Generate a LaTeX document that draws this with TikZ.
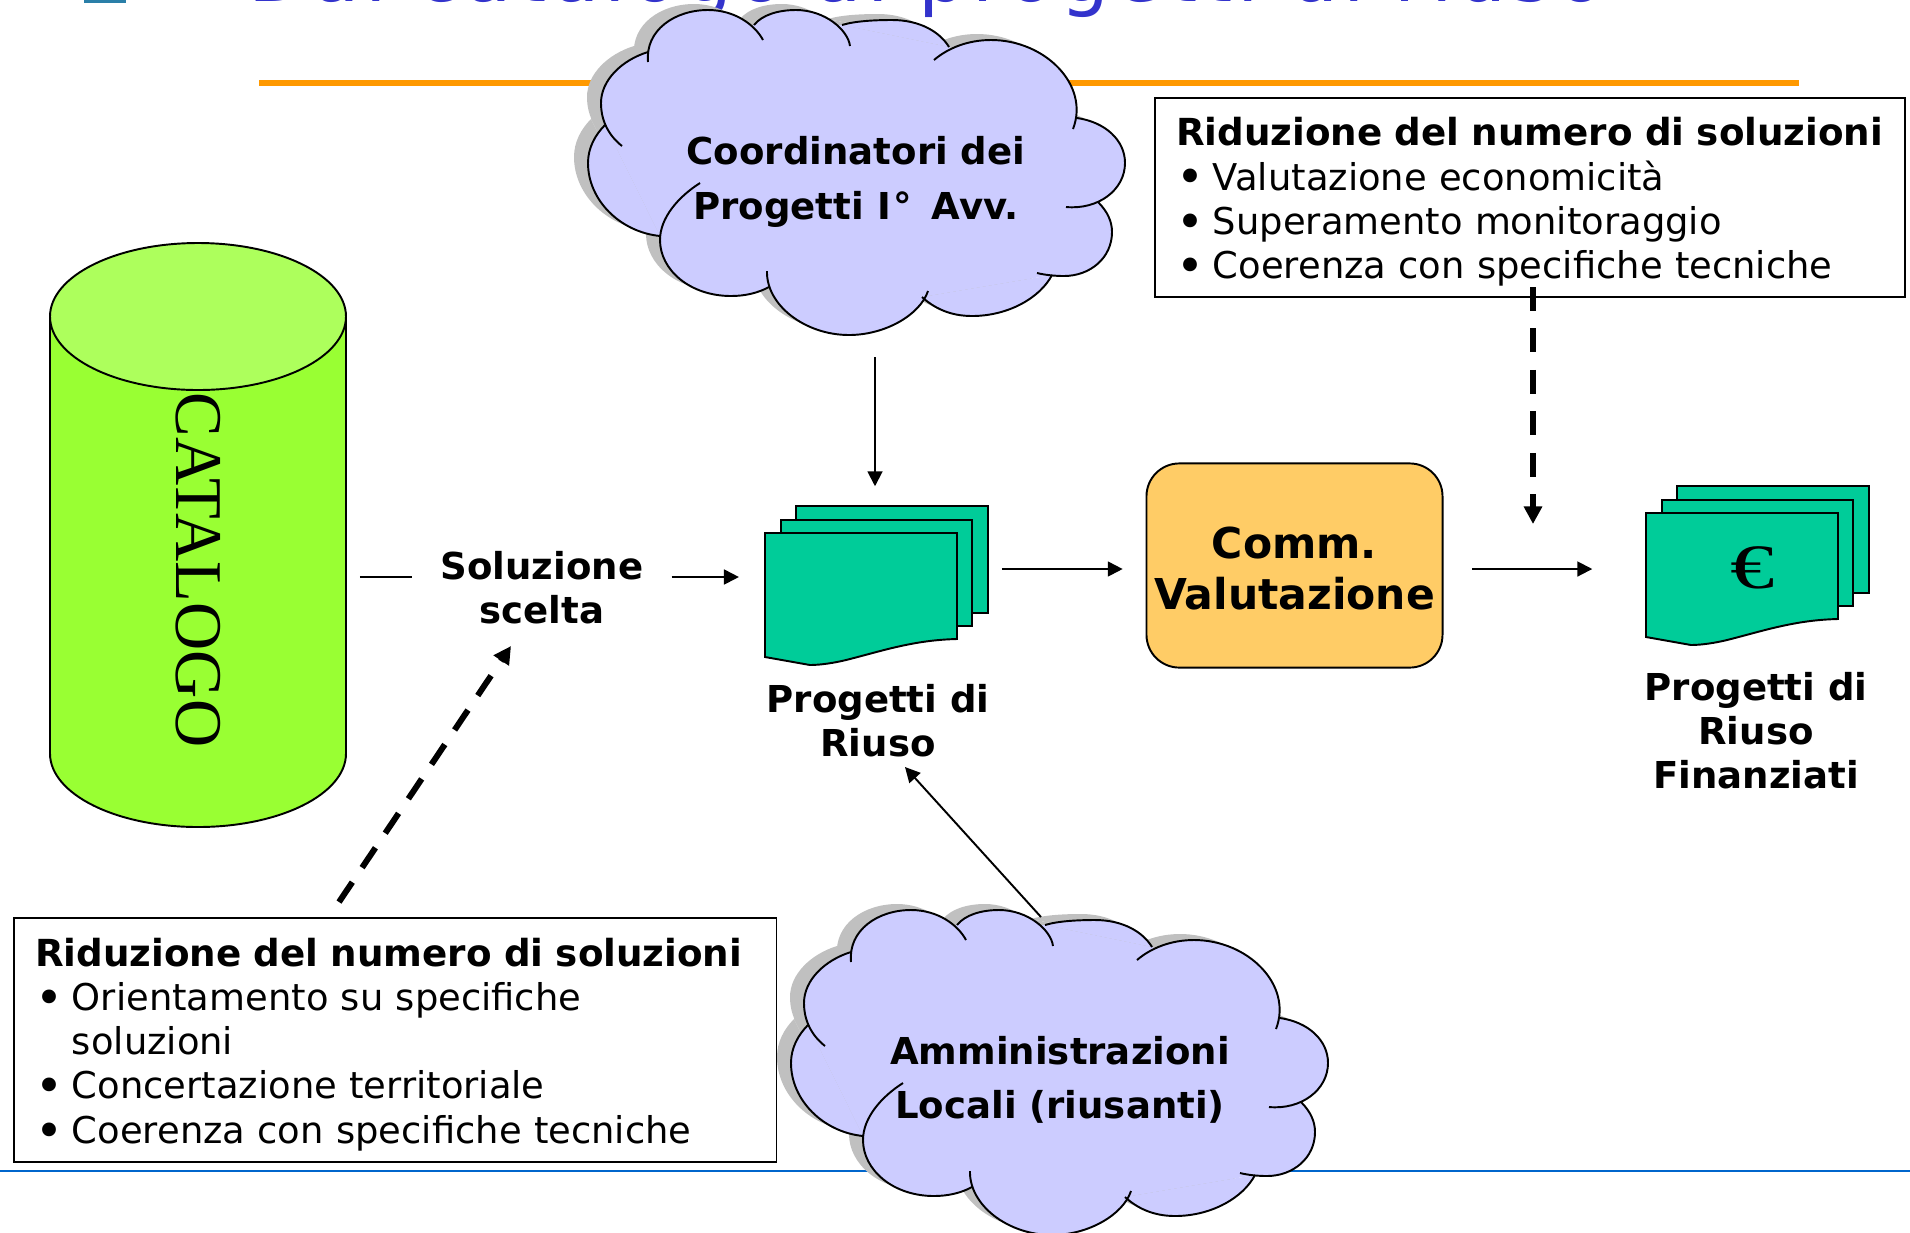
\documentclass[tikz,border=0pt]{standalone}
\usepackage{fontspec}
\usepackage{xcolor}
\setmainfont{DejaVu Sans}
\newfontfamily\serifcat{Liberation Serif}
\newfontfamily\titlefont[LetterSpace=6.6]{DejaVu Sans}
\usetikzlibrary{arrows.meta,positioning}
\definecolor{orangeline}{HTML}{FF9900}
\definecolor{blueline}{HTML}{0066CC}
\definecolor{titleblue}{HTML}{3333CC}
\definecolor{logoblue}{HTML}{2A7FA8}
\definecolor{cloudfill}{HTML}{CCCCFF}
\definecolor{cloudshade}{HTML}{C0C0C0}
\definecolor{docfill}{HTML}{00CC99}
\definecolor{cylbody}{HTML}{99FF33}
\definecolor{cyltop}{HTML}{ADFF5C}
\definecolor{commfill}{HTML}{FFCC66}
\tikzset{
  link/.style={line width=1.1pt},
  arr/.style={line width=1.1pt,-{Triangle[length=8.5pt,width=8.5pt]}},
  dasharr/.style={line width=3.4pt,dash pattern=on 13.6pt off 10pt,-{Triangle[length=10pt,width=10pt]}},
  bold/.style={font=\fontsize{21.1pt}{25pt}\selectfont\bfseries,align=center,inner sep=0pt},
  cloudtext/.style={font=\fontsize{21.1pt}{31pt}\selectfont\bfseries,align=center,inner sep=0pt,minimum width=304.5pt,minimum height=178pt},
  notebox/.style={draw,fill=white,line width=1.1pt,font=\fontsize{21pt}{25.2pt}\selectfont,align=left,inner xsep=12pt,inner ysep=0pt,minimum height=#1,anchor=north west},
  page/.style={draw,fill=docfill,line width=1.1pt}
}
\newcommand{\bul}{\makebox[21pt][l]{\fontsize{27pt}{25pt}\selectfont\raisebox{-2.2pt}{•}}}
\newcommand{\boldhead}{\rule{0pt}{21pt}{\fontsize{21.2pt}{25.2pt}\selectfont\bfseries Riduzione del numero di soluzioni}}
\newcommand{\cloudlobes}[1]{
  #1 (648,62) .. controls (645,30) and (675,10) .. (708,10) .. controls (735,10) and (755,25) .. (763,40);
  #1 (754,25) .. controls (762,15) and (778,10) .. (796,10) .. controls (825,10) and (848,30) .. (850,46);
  #1 (842,25) .. controls (855,21) and (875,20) .. (892,20) .. controls (920,20) and (940,32) .. (949,47);
  #1 (934,60) .. controls (948,48) and (968,40) .. (991,40) .. controls (1045,40) and (1090,85) .. (1073,129);
  #1 (1077,118) .. controls (1105,122) and (1125,140) .. (1125,163) .. controls (1125,190) and (1098,210) .. (1066,207);
  #1 (1098,202) .. controls (1108,212) and (1112,222) .. (1112,232) .. controls (1112,258) and (1090,276) .. (1064,276) .. controls (1055,276) and (1045,275) .. (1037,273);
  #1 (1052,275) .. controls (1040,298) and (1008,316) .. (972,316) .. controls (950,316) and (934,308) .. (922,297);
  #1 (928,291) .. controls (920,315) and (885,335) .. (849,335) .. controls (805,335) and (766,305) .. (767,271);
  #1 (769,287) .. controls (758,293) and (745,296) .. (731,296) .. controls (690,296) and (660,270) .. (660,240) .. controls (660,218) and (678,197) .. (700,183);
  #1 (660,236) .. controls (620,232) and (588,200) .. (588,163) .. controls (588,148) and (595,135) .. (605,125);
  #1 (622,146) .. controls (608,135) and (601,120) .. (601,103) .. controls (601,80) and (622,60) .. (648,52);
}
\newcommand{\cloudcore}{(648,52) -- (754,25) -- (842,25) -- (949,47) -- (1077,118) -- (1098,202) -- (1052,275) -- (922,297) -- (769,287) -- (660,236) -- (605,125) -- cycle}
\newcommand{\cloudshape}{
  \begin{scope}[shift={(-14,-6)},cloudshade]
    \cloudlobes{\fill}
    \fill \cloudcore;
  \end{scope}
  \begin{scope}[cloudfill]
    \cloudlobes{\fill}
    \fill \cloudcore;
  \end{scope}
  \cloudlobes{\draw[line width=1.1pt]}
}
\newcommand{\docstack}{
  \draw[page] (796,506) -- (988,506) -- (988,613) -- (960,613) -- (796,613) -- cycle;
  \draw[page] (781,520) -- (972,520) -- (972,626) -- (940,626) -- (781,626) -- cycle;
  \draw[page] (765,533) -- (957,533) -- (957,639) .. controls (915,640) and (885,650) .. (850,659) .. controls (835,663) and (820,665) .. (810,665) -- (765,657) -- cycle;
}

\begin{document}
\begin{tikzpicture}[x=0.02cm,y=-0.02cm]
    \clip (0,0) rectangle (1910,1232);

    \node[anchor=base west,inner sep=0pt,text=titleblue,font=\titlefont\fontsize{44pt}{44pt}\selectfont] (title) at (248,1) {Dal catalogo ai progetti di riuso};
    \fill[logoblue] (84,0) rectangle (126,3);
    \draw[orangeline,line width=3.4pt] (259,83) -- (1799,83);
    \draw[blueline,line width=1.2pt] (0,1171) -- (1910,1171);

    \fill[cylbody] (50,316.5) -- (50,753.5) arc[start angle=180,end angle=0,x radius=148,y radius=73.5] -- (346,316.5) -- cycle;
    \draw[link] (50,316.5) -- (50,753.5) arc[start angle=180,end angle=0,x radius=148,y radius=73.5] -- (346,316.5);
    \draw[link,fill=cyltop] (198,316.5) ellipse[x radius=148,y radius=73.5];
    \node[minimum width=167.8pt,minimum height=331pt,inner sep=0pt] (catalogo) at (198,535) {};
    \node[rotate=-90,inner sep=0pt,font=\serifcat\fontsize{38pt}{38pt}\selectfont] (catalogotxt) at (198,570) {CATALOGO};

    \node[bold] (soluzione) at (542,588) {Soluzione\\scelta};

    \docstack
    \node[minimum width=126.5pt,minimum height=90pt,inner sep=0pt] (progetti) at (875,585.5) {};
    \node[bold] (progettilab) at (878,721) {Progetti di\\Riuso};

    \node[draw,fill=commfill,line width=1.1pt,rounded corners=18.7pt,minimum width=168.5pt,minimum height=116.2pt,inner sep=0pt,align=center,font=\fontsize{24.2pt}{29pt}\selectfont\bfseries] (comm) at (1294.5,565.5) {\rule{0pt}{21.2pt}Comm.\\Valutazione};

    \begin{scope}[shift={(881,-20)}]
      \docstack
    \end{scope}
    \node[minimum width=126.5pt,minimum height=90pt,inner sep=0pt] (finanziati) at (1757.5,565.5) {};
    \node[inner sep=0pt,xscale=1.4,font=\serifcat\fontsize{36pt}{36pt}\selectfont] (euro) at (1753,568) {€};
    \node[bold] (finanziatilab) at (1756,731) {Progetti di\\Riuso\\Finanziati};

    \node[notebox=113.4pt,text width=403pt] (boxa) at (1154,97) {\boldhead\\\bul Valutazione economicità\\\bul Superamento monitoraggio\\\bul Coerenza con specifiche tecniche};
    \node[notebox=139pt,text width=410pt] (boxb) at (13,917) {\boldhead\\\bul Orientamento su specifiche\\\hspace*{21pt}soluzioni\\\bul Concertazione territoriale\\\bul Coerenza con specifiche tecniche};

    \cloudshape
    \node[cloudtext] (coord) at (856,182) {Coordinatori dei\\Progetti I\kern1.5pt°\kern4pt{} Avv.};
    \begin{scope}[shift={(203,900)}]
      \cloudshape
    \end{scope}
    \node[cloudtext] (ammin) at (1060,1080) {Amministrazioni\\Locali (riusanti)};

    \coordinate (rowa) at (0,577);
    \coordinate (rowb) at (0,569);
    \coordinate (dasha) at (339,902);
    \coordinate (dashb) at (511,646);
    \coordinate (dashc) at (1533,287);
    \coordinate (dashd) at (1533,524);
    \coordinate (ammintop) at (1041,917);
    \coordinate (progbase) at (905,767);
    \coordinate (coordout) at (875,357);

    \draw [link,shorten <=8pt,shorten >=16pt] (catalogo.east |- rowa) to (soluzione.west |- rowa);
    \draw [arr,shorten <=16pt,shorten >=14pt] (soluzione.east |- rowa) to (progetti.west |- rowa);
    \draw [arr,shorten >=11.3pt] (coordout) to (progetti.north);
    \draw [arr,shorten <=8.8pt,shorten >=13pt] (progetti.east |- rowb) to (comm.west |- rowb);
    \draw [arr,shorten <=16.4pt,shorten >=30.6pt] (comm.east |- rowb) to (finanziati.west |- rowb);
    \draw [arr] (ammintop) to (progbase);
    \draw [dasharr] (dasha) to (dashb);
    \draw [dasharr] (dashc) to (dashd);
\end{tikzpicture}
\end{document}
